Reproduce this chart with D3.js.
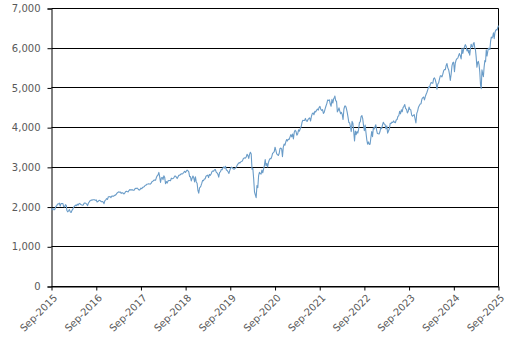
<!DOCTYPE html>
<html>
<head>
  <meta charset="utf-8">
  <title>Index level, Sep-2015 to Sep-2025</title>
  <style>
    body { margin: 0; background: #fff; }
    .tick text { font-family: "DejaVu Sans", sans-serif; font-size: 10px; fill: #595959; }
  </style>
</head>
<body>
  <svg width="510" height="341"></svg>

  <script src="https://unpkg.com/d3@7/dist/d3.min.js"></script>
  <script type="text/javascript">
    // weekly closes, one array per calendar year
    var y2015 = [1921, 1961, 1958, 1931, 1951, 2014, 2033, 2075, 2079, 2099, 2023, 2089, 2090, 2091, 2012, 2005, 2060, 2044]
    var y2016 = [1922, 1880, 1906, 1940, 1880, 1865, 1917, 1948, 1999, 2022, 2050, 2035, 2073, 2048, 2081, 2092, 2065, 2057,
      2047, 2052, 2099, 2099, 2096, 2071, 2037, 2103, 2130, 2162, 2175, 2174, 2183, 2184, 2184, 2169, 2180, 2128, 2139,
      2165, 2168, 2153, 2133, 2141, 2126, 2085, 2164, 2182, 2213, 2192, 2260, 2258, 2263, 2239]
    var y2017 = [2277, 2275, 2271, 2295, 2297, 2316, 2351, 2367, 2383, 2372, 2378, 2344, 2363, 2355, 2329, 2349, 2384, 2399,
      2390, 2382, 2416, 2439, 2432, 2433, 2438, 2423, 2425, 2459, 2472, 2472, 2476, 2441, 2426, 2443, 2477, 2461, 2500,
      2502, 2519, 2549, 2553, 2575, 2581, 2588, 2582, 2579, 2602, 2642, 2652, 2676, 2683, 2674]
    var y2018 = [2743, 2786, 2810, 2873, 2762, 2620, 2732, 2747, 2691, 2786, 2752, 2588, 2641, 2604, 2656, 2670, 2670, 2663,
      2728, 2713, 2721, 2735, 2779, 2780, 2755, 2718, 2760, 2801, 2802, 2819, 2840, 2833, 2850, 2875, 2902, 2872, 2905,
      2930, 2914, 2886, 2767, 2768, 2658, 2723, 2781, 2736, 2633, 2760, 2633, 2600, 2417, 2351, 2486, 2507]
    var y2019 = [2532, 2596, 2671, 2665, 2707, 2708, 2776, 2793, 2804, 2743, 2822, 2800, 2834, 2893, 2907, 2905, 2940, 2946,
      2881, 2860, 2826, 2752, 2873, 2887, 2950, 2942, 2990, 3014, 2977, 3026, 2932, 2919, 2889, 2847, 2926, 2979, 3007,
      2992, 2962, 2952, 2970, 2986, 3023, 3067, 3093, 3120, 3110, 3141, 3146, 3169, 3221, 3240, 3231]
    var y2020 = [3235, 3265, 3330, 3295, 3226, 3328, 3380, 3338, 2954, 2972, 2711, 2386, 2305, 2237, 2541, 2489, 2790, 2875,
      2837, 2831, 2930, 2864, 2955, 3044, 3194, 3041, 3098, 3009, 3130, 3185, 3225, 3216, 3271, 3351, 3373, 3397, 3508,
      3427, 3341, 3319, 3298, 3348, 3477, 3484, 3465, 3270, 3509, 3585, 3558, 3638, 3699, 3663, 3709, 3703, 3756]
    var y2021 = [3825, 3768, 3841, 3714, 3887, 3934, 3907, 3811, 3842, 3943, 3913, 3975, 4020, 4129, 4185, 4180, 4181, 4233,
      4174, 4156, 4204, 4230, 4247, 4166, 4281, 4352, 4370, 4327, 4412, 4395, 4437, 4468, 4442, 4509, 4535, 4459, 4433,
      4455, 4357, 4391, 4471, 4545, 4605, 4697, 4683, 4698, 4595, 4538, 4712, 4620, 4725, 4766]
    var y2022 = [4796, 4677, 4663, 4398, 4432, 4500, 4419, 4349, 4385, 4329, 4204, 4463, 4543, 4546, 4488, 4393, 4272, 4132,
      4123, 4024, 3901, 4158, 4109, 3901, 3667, 3912, 3825, 3899, 3863, 3962, 4130, 4145, 4280, 4305, 4228, 4058, 3924,
      4067, 3873, 3693, 3586, 3640, 3577, 3583, 3752, 3901, 3771, 3993, 3965, 4026, 4072, 3934, 3852, 3845, 3840]
    var y2023 = [3895, 3999, 3973, 4071, 4136, 4090, 4079, 3970, 4046, 3862, 3917, 3971, 4109, 4105, 4138, 4133, 4169, 4136,
      4124, 4192, 4205, 4282, 4299, 4410, 4348, 4450, 4399, 4505, 4536, 4582, 4478, 4464, 4370, 4406, 4516, 4457, 4450,
      4320, 4288, 4309, 4327, 4224, 4117, 4358, 4415, 4514, 4559, 4595, 4604, 4719, 4755, 4770]
    var y2024 = [4697, 4784, 4840, 4891, 4959, 5027, 5006, 5089, 5137, 5124, 5117, 5234, 5254, 5204, 5123, 4967, 5100, 5128,
      5223, 5303, 5305, 5278, 5347, 5431, 5465, 5460, 5567, 5615, 5505, 5459, 5347, 5186, 5344, 5554, 5635, 5648, 5408,
      5626, 5703, 5738, 5751, 5815, 5865, 5808, 5729, 5996, 5871, 5969, 6032, 6090, 6051, 5931, 5971, 5882]
    var y2025 = [5942, 5827, 5997, 6101, 6041, 6026, 6115, 6144, 6013, 5955, 5770, 5522, 5639, 5668, 5581, 5397, 5074, 4983,
      5457, 5363, 5283, 5525, 5687, 5660, 5958, 5803, 5912, 6000, 5977, 5968, 6173, 6279, 6260, 6297, 6389, 6238, 6389,
      6450, 6467, 6460, 6520, 6570]

    var years = [
      {vals: y2015, from: '2015-09-01', to: '2015-12-31'},
      {vals: y2016, from: '2016-01-04', to: '2016-12-30'},
      {vals: y2017, from: '2017-01-06', to: '2017-12-29'},
      {vals: y2018, from: '2018-01-05', to: '2018-12-31'},
      {vals: y2019, from: '2019-01-04', to: '2019-12-31'},
      {vals: y2020, from: '2020-01-03', to: '2020-12-31'},
      {vals: y2021, from: '2021-01-08', to: '2021-12-31'},
      {vals: y2022, from: '2022-01-03', to: '2022-12-30'},
      {vals: y2023, from: '2023-01-06', to: '2023-12-29'},
      {vals: y2024, from: '2024-01-05', to: '2024-12-31'},
      {vals: y2025, from: '2025-01-03', to: '2025-09-01'}
    ]

    var yTicks = [0, 1000, 2000, 3000, 4000, 5000, 6000, 7000]
    var xTickYears = d3.range(2015, 2026)

    var parse = d3.utcParse('%Y-%m-%d')
    var data = []
    years.forEach(function (yr) {
      var t0 = parse(yr.from).getTime(), t1 = parse(yr.to).getTime(), n = yr.vals.length
      yr.vals.forEach(function (v, i) {
        data.push({date: new Date(t0 + (t1 - t0) * i / (n - 1)), value: v})
      })
    })

    var svg = d3.select('svg'),
      margin = {top: 8, right: 12, bottom: 55, left: 51},
      width = +svg.attr('width') - margin.left - margin.right,
      height = +svg.attr('height') - margin.top - margin.bottom,
      g = svg.append('g').attr('transform', 'translate(' + (margin.left + 0.5) + ',' + (margin.top + 0.5) + ')')

    var x = d3.scaleUtc().domain([parse('2015-09-01'), parse('2025-09-01')]).range([0, width])
    var y = d3.scaleLinear().domain([0, 7000]).range([height, 0])

    // gridlines
    g.append('g')
      .selectAll('line')
      .data(yTicks).enter()
      .append('line')
      .attr('x1', 0).attr('x2', width)
      .attr('y1', d => Math.round(y(d))).attr('y2', d => Math.round(y(d)))
      .attr('stroke', '#000')

    // right border
    g.append('line')
      .attr('x1', width).attr('x2', width)
      .attr('y1', 0).attr('y2', height)
      .attr('stroke', '#000')

    var yAxis = g.append('g')
      .call(d3.axisLeft(y).tickValues(yTicks).tickSize(4).tickPadding(7).tickFormat(d3.format(',')))
    yAxis.select('.domain').attr('stroke', '#000')
    yAxis.selectAll('.tick line').attr('stroke', '#000')

    var xTicks = xTickYears.map(yr => parse(yr + '-09-01'))
    var xAxis = g.append('g')
      .attr('transform', 'translate(0,' + Math.round(height) + ')')
      .call(d3.axisBottom(x).tickValues(xTicks).tickSize(4).tickSizeOuter(0).tickFormat(d3.utcFormat('%b-%Y')))
    xAxis.select('.domain').attr('stroke', '#000')
    xAxis.selectAll('.tick line').attr('stroke', '#000')
    xAxis.selectAll('.tick text')
      .attr('text-anchor', 'end')
      .attr('dy', null)
      .attr('y', 0)
      .attr('transform', 'translate(6,12) rotate(-45)')

    g.append('path')
      .datum(data)
      .attr('fill', 'none')
      .attr('stroke', '#6a9cc8')
      .attr('stroke-width', 1.1)
      .attr('stroke-linejoin', 'round')
      .attr('d', d3.line().x(d => x(d.date)).y(d => y(d.value)))
  </script>
</body>
</html>
